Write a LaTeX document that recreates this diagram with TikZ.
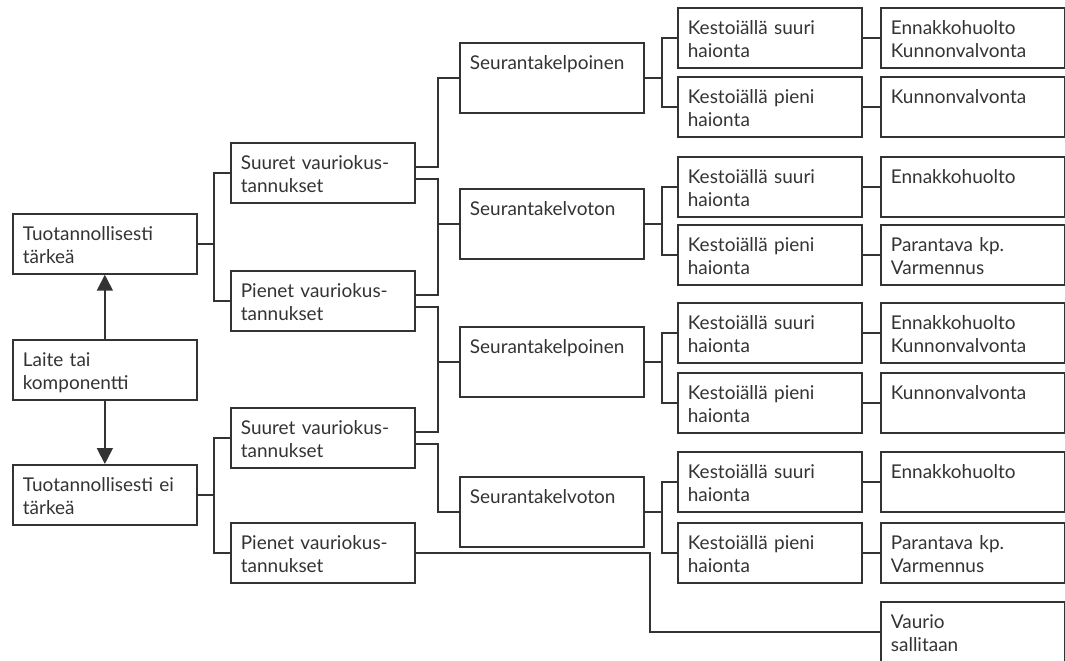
\documentclass[tikz,border=0pt]{standalone}
\usepackage{fontspec}
\setmainfont{Lato}
\usetikzlibrary{arrows.meta}
\tikzstyle{box} = [rectangle, anchor=north west, text width=3.28cm, inner xsep=0.2cm, inner ysep=0.25cm, text height=0.29cm, text depth=0.41cm, align=left, draw=black!80, line width=1pt, text=black!80, font=\fontsize{10.8}{13.1}\selectfont]
\tikzstyle{tallbox} = [box, text depth=0.61cm]
\tikzstyle{line} = [draw=black!80, line width=1pt]
\tikzstyle{arrow} = [line, -{Triangle[length=9pt, width=9pt]}]

\begin{document}
\begin{tikzpicture}[x=0.02cm, y=-0.02cm]
\useasboundingbox (0,0) rectangle (1065,661);

\node (tuot1) [box] at (12,213) {Tuotannollisesti\\tärkeä};
\node (laite) [box] at (12,339) {Laite tai\\komponentti};
\node (tuot2) [box] at (12,464) {Tuotannollisesti ei\\tärkeä};

\node (suur1) [box] at (230,142) {Suuret vauriokus-\\tannukset};
\node (pien1) [box] at (230,270) {Pienet vauriokus-\\tannukset};
\node (suur2) [box] at (230,407) {Suuret vauriokus-\\tannukset};
\node (pien2) [box] at (230,522) {Pienet vauriokus-\\tannukset};

\node (seur1) [tallbox] at (459,42) {Seurantakelpoinen};
\node (seur2) [tallbox] at (459,188) {Seurantakelvoton};
\node (seur3) [tallbox] at (459,326) {Seurantakelpoinen};
\node (seur4) [tallbox] at (459,476) {Seurantakelvoton};

\node (kest1) [box] at (677,7) {Kestoiällä suuri\\haionta};
\node (kest2) [box] at (677,76) {Kestoiällä pieni\\haionta};
\node (kest3) [box] at (677,156) {Kestoiällä suuri\\haionta};
\node (kest4) [box] at (677,224) {Kestoiällä pieni\\haionta};
\node (kest5) [box] at (677,302) {Kestoiällä suuri\\haionta};
\node (kest6) [box] at (677,372) {Kestoiällä pieni\\haionta};
\node (kest7) [box] at (677,451) {Kestoiällä suuri\\haionta};
\node (kest8) [box] at (677,522) {Kestoiällä pieni\\haionta};

\node (huol1) [box] at (880,7) {Ennakkohuolto\\Kunnonvalvonta};
\node (huol2) [box] at (880,76) {Kunnonvalvonta};
\node (huol3) [box] at (880,156) {Ennakkohuolto};
\node (huol4) [box] at (880,224) {Parantava kp.\\Varmennus};
\node (huol5) [box] at (880,302) {Ennakkohuolto\\Kunnonvalvonta};
\node (huol6) [box] at (880,372) {Kunnonvalvonta};
\node (huol7) [box] at (880,451) {Ennakkohuolto};
\node (huol8) [box] at (880,522) {Parantava kp.\\Varmennus};
\node (vaur) [box] at (880,601) {Vaurio\\sallitaan};

\draw [arrow] (laite) -- (tuot1);
\draw [arrow] (laite) -- (tuot2);

\draw [line] (tuot1.east) -- ++(16,0) |- (suur1.west);
\draw [line] (tuot1.east) -- ++(16,0) |- (pien1.west);
\draw [line] (tuot2.east) -- ++(16,0) |- (suur2.west);
\draw [line] (tuot2.east) -- ++(16,0) |- (pien2.west);

\draw [line] ([yshift=0.12cm]suur1.east) -- ++(22,0) |- (seur1.west);
\draw [line] ([yshift=-0.12cm]suur1.east) -- ++(22,0) |- (seur2.west);
\draw [line] ([yshift=0.12cm]pien1.east) -- ++(22,0) |- (seur2.west);
\draw [line] ([yshift=-0.12cm]pien1.east) -- ++(22,0) |- (seur3.west);
\draw [line] ([yshift=0.12cm]suur2.east) -- ++(22,0) |- (seur3.west);
\draw [line] ([yshift=-0.12cm]suur2.east) -- ++(22,0) |- (seur4.west);
\draw [line] (pien2.east) -- ++(234,0) |- (vaur.west);

\draw [line] (seur1.east) -- ++(17,0) |- (kest1.west);
\draw [line] (seur1.east) -- ++(17,0) |- (kest2.west);
\draw [line] (seur2.east) -- ++(17,0) |- (kest3.west);
\draw [line] (seur2.east) -- ++(17,0) |- (kest4.west);
\draw [line] (seur3.east) -- ++(17,0) |- (kest5.west);
\draw [line] (seur3.east) -- ++(17,0) |- (kest6.west);
\draw [line] (seur4.east) -- ++(17,0) |- (kest7.west);
\draw [line] (seur4.east) -- ++(17,0) |- (kest8.west);

\draw [line] (kest1) -- (huol1);
\draw [line] (kest2) -- (huol2);
\draw [line] (kest3) -- (huol3);
\draw [line] (kest4) -- (huol4);
\draw [line] (kest5) -- (huol5);
\draw [line] (kest6) -- (huol6);
\draw [line] (kest7) -- (huol7);
\draw [line] (kest8) -- (huol8);

\end{tikzpicture}
\end{document}
